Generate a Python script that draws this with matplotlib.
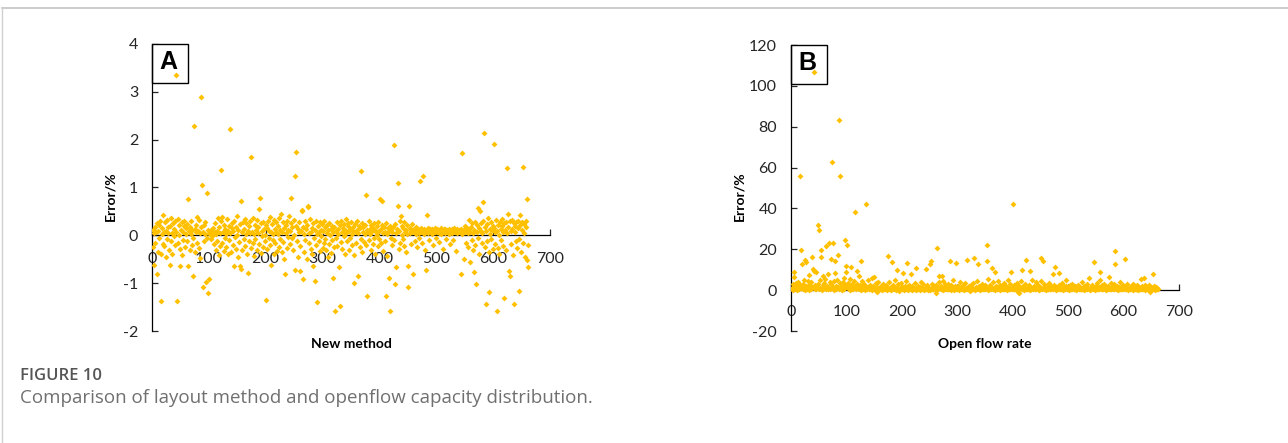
import matplotlib
matplotlib.use("Agg")
import matplotlib.pyplot as plt
from matplotlib.patches import Rectangle
from matplotlib.lines import Line2D
import numpy as np

# relative error of the new layout method, one value per sample (1..662)
err_new = [
    0.12, -0.25, -0.62, 0.05, 0.18, -0.15, 0.08, 0.25, -0.80, -0.35, 0.10, 0.22, -0.05, 0.30, -0.40, -1.37, 0.02, 0.15, -0.18, 0.42,
    0.06, -0.22, 0.28, 0.10, -0.45, 0.33, -0.08, 0.18, 0.04, -0.30, -0.63, 0.20, 0.37, -0.12, 0.05, -0.38, 0.26, 0.14, -0.02, 0.31,
    -0.20, 3.35, 0.08, -1.37, 0.35, -0.15, 0.22, 0.01, -0.28, -0.64, 0.12, 0.27, -0.42, 0.06, -0.10, 0.19, 0.30, -0.25, 0.03, 0.16,
    -0.12, 0.24, 0.75, -0.64, 0.09, -0.30, 0.18, 0.02, 0.29, -0.20, 0.11, -0.05, -0.86, 2.28, 0.14, -0.35, 0.21, 0.07, -0.15, 0.38,
    0.10, -0.26, 0.33, 0.04, -0.48, 2.90, 0.17, 1.06, -1.09, 0.08, 0.22, -0.12, 0.02, 0.28, -0.98, -0.05, 0.88, 0.12, -1.20, -0.91,
    0.05, 0.02, -0.08, 0.12, 0.08, -0.02, 0.15, 0.00, -0.18, 0.06, 0.25, -0.30, 0.03, 0.10, -0.12, 0.36, -0.42, 0.18, 0.04, -0.22,
    1.36, 0.30, -0.15, 0.39, 0.07, -0.33, 0.21, -0.06, 0.13, -0.25, 0.02, 0.34, -0.40, 0.10, 0.20, -0.10, 2.22, 0.05, -0.35, 0.26,
    0.15, -0.20, 0.09, -0.64, 0.31, -0.04, 0.18, -0.28, 0.01, 0.40, -0.45, 0.12, -0.14, 0.23, -0.64, 0.71, -0.70, 0.06, -0.30, 0.27,
    -0.08, 0.14, 0.35, -0.22, 0.03, 0.26, -0.38, 0.10, -0.79, 0.19, -0.11, 0.29, 0.05, -0.26, 1.63, 0.08, -0.16, 0.37, 0.02, -0.43,
    0.21, -0.07, 0.12, 0.32, -0.30, 0.04, 0.17, -0.19, 0.55, 0.79, 0.25, -0.36, 0.09, -0.02, 0.28, -0.24, 0.13, 0.01, -0.12, 0.22,
    -1.36, 0.16, -0.28, 0.30, -0.05, 0.10, 0.38, -0.20, 0.06, -0.61, 0.24, -0.10, 0.02, 0.33, -0.40, 0.14, -0.16, 0.27, 0.08, -0.32,
    0.19, 0.03, -0.24, 0.36, 0.11, -0.08, 0.45, -0.35, 0.07, 0.28, -0.14, 0.15, -0.50, -0.81, 0.22, 0.04, -0.27, 0.31, -0.03, 0.12,
    0.40, -0.18, 0.09, 0.79, 0.25, -0.06, 0.17, -0.30, 0.33, 0.01, 1.24, -0.72, 0.20, 1.74, -0.12, 0.14, -0.45, 0.06, 0.27, -0.75,
    -0.22, 0.10, 0.51, 0.54, -0.91, 0.18, -0.35, 0.03, 0.29, -0.09, 0.13, -0.50, 0.22, 0.59, 0.61, -0.17, 0.05, 0.34, -0.28, 0.08,
    0.15, -0.40, -0.65, 0.26, -0.05, -0.96, 0.11, 0.30, -0.20, 0.02, -1.40, 0.19, -0.12, 0.07, 0.28, -0.33, 0.12, -0.02, 0.23, -0.26,
    0.09, -0.15, 0.31, -0.08, 0.17, -0.30, 0.04, 0.22, -0.45, 0.12, -0.18, 0.26, 0.01, -0.36, 0.14, -0.10, 0.20, 0.06, -0.89, -0.25,
    0.18, -1.58, 0.10, -0.05, 0.27, -0.22, 0.13, 0.03, -0.66, -1.47, 0.21, -0.14, 0.30, 0.08, -0.28, 0.16, -0.02, 0.24, -0.40, 0.11,
    0.05, 0.35, -0.12, 0.19, 0.26, -0.30, 0.09, 0.14, -0.06, 0.28, 0.02, -0.20, 0.17, 0.10, -0.42, -1.00, 0.23, 0.07, -0.15, 0.30,
    0.12, -0.86, 0.04, 0.20, -0.25, 0.15, -0.08, 1.35, 0.25, -0.35, 0.08, 0.18, -0.14, 0.02, 0.22, 0.84, -0.20, -1.26, 0.11, 0.06,
    0.29, -0.10, 0.14, 0.03, -0.30, 0.21, 0.09, -0.18, 0.16, 0.25, -0.05, 0.12, -0.38, 0.07, 0.19, 0.01, -0.22, 0.28, 0.10, -0.08,
    0.75, 0.13, -0.15, 0.22, 0.71, 0.05, -0.32, 0.17, 0.08, -0.12, -1.26, 0.26, 0.02, -0.44, 0.15, 0.10, -0.89, -1.59, 0.20, -0.06,
    0.12, -0.20, 0.06, 0.18, 1.88, -0.10, -1.02, 0.24, -0.66, 0.04, 0.14, 1.09, 0.61, -0.28, 0.09, 0.30, -0.15, 0.40, 0.01, 0.19,
    -0.08, 0.16, 0.28, -0.22, 0.07, 0.12, -0.35, 0.21, 0.03, -0.65, -1.07, 0.61, 0.15, 0.05, -0.18, 0.10, 0.24, 0.08, -0.81, 0.13,
    0.06, -0.12, 0.11, 0.18, 0.02, -0.25, 0.09, 0.14, 0.04, -0.06, 1.14, 0.12, 0.07, 0.16, -0.15, 0.10, 1.23, 0.03, 0.13, -0.30,
    0.08, -0.72, 0.43, 0.12, 0.05, 0.15, 0.10, -0.10, 0.13, 0.07, 0.11, 0.02, 0.14, -0.20, 0.09, 0.12, 0.06, 0.16, -0.05, 0.10,
    0.13, 0.08, 0.11, -0.14, 0.05, 0.12, 0.09, 0.15, 0.02, 0.10, -0.28, 0.07, 0.13, 0.11, 0.04, 0.14, -0.08, 0.09, 0.12, 0.06,
    0.10, 0.14, 0.03, -0.18, 0.11, 0.08, 0.13, 0.05, 0.12, -0.10, 0.09, 0.15, 0.07, 0.11, -0.32, 0.04, 0.13, 0.10, 0.08, 0.12,
    0.06, 0.11, -0.80, 0.14, 0.02, 1.72, 0.09, -0.49, 0.12, 0.07, 0.20, -0.15, 0.10, 0.16, 0.04, -0.25, 0.13, 0.33, 0.08, -0.55,
    0.18, -0.10, 0.25, 0.05, -0.30, -0.77, 0.12, 0.28, -0.20, -1.01, 0.08, 0.22, 0.58, -0.05, 0.15, -0.38, 0.50, 0.10, 0.26, -0.16,
    0.04, 0.30, 0.69, 2.14, -0.24, 0.18, -1.44, 0.09, -0.12, 0.24, 0.36, -0.35, -1.19, 0.14, 0.02, 0.28, -0.08, 0.12, -0.28, 0.20,
    0.16, 1.90, -0.18, 0.06, 0.33, -1.59, 0.10, -0.26, 0.22, 0.01, -0.40, 0.27, 0.13, -0.10, 0.19, 0.35, -0.22, 0.08, 0.25, -1.30,
    0.11, -0.30, 0.28, 0.04, 1.40, 0.45, 0.17, -0.75, 0.30, -0.84, 0.09, -0.18, 0.32, 0.14, -0.42, 0.25, -1.43, 0.06, 0.20, -0.12,
    0.28, -0.26, 0.15, 0.31, -0.08, -1.16, 0.21, 0.43, -0.35, 0.12, 0.27, -0.15, 1.42, 0.05, 0.24, -0.45, 0.18, 0.30, -0.51, 0.75,
    -0.66, -0.20,
]

# relative error of the open flow rate, one value per sample (1..662)
err_open = [
    1.2, 0.5, 2.8, 0.3, 6.2, 9.1, 1.5, 0.8, 3.6, 0.2, 1.9, 0.6, 4.1, 1.1, 0.4, 55.8, 2.3, 19.8, 0.9, 13.0,
    0.7, 3.2, 1.4, 5.0, 0.3, 15.0, 2.1, 13.7, 0.6, 4.4, 1.8, 0.2, 7.3, 1.0, 2.6, 0.5, 3.9, 16.2, 1.3, 10.2,
    9.6, 107.0, 0.8, 2.4, 0.4, 8.7, 1.6, 31.9, 3.1, 29.4, 0.6, 4.8, 1.2, 19.8, 16.2, 0.3, 2.7, 6.7, 0.9, 3.4,
    1.5, 5.6, 21.8, 0.4, 2.2, 7.9, 0.7, 23.1, 1.1, 3.8, 0.5, 2.9, 15.1, 62.6, 1.7, 23.1, 0.3, 4.6, 14.5, 8.6,
    2.0, 0.6, 5.2, 1.3, 17.0, 0.4, 83.4, 55.8, 3.3, 0.8, 1.9, 0.2, 4.0, 1.0, 6.1, 0.5, 2.5, 24.7, 8.9, 12.0,
    22.3, 1.4, 3.7, 0.6, 2.2, 0.3, 5.4, 1.1, 11.4, 0.7, 2.8, 0.4, 1.6, 4.3, 38.4, 0.9, 2.0, 0.5, 3.0, 9.3,
    1.2, 0.4, 6.8, 0.8, 2.5, 14.1, 0.3, 1.7, 4.5, 0.6, 1.0, 3.2, 0.2, 2.1, 0.9, 42.0, 1.5, 0.5, 4.9, 0.7,
    1.3, 0.4, 2.6, 0.8, 1.0, 5.9, 0.3, 1.9, 0.6, 6.3, 1.2, 0.5, 3.5, 0.9, -0.9, 1.6, 4.2, 0.7, 1.1, 0.4,
    0.9, 2.2, 0.5, 1.4, 0.3, 3.0, 0.8, 1.7, 0.4, 1.1, 2.5, 0.6, 0.2, 1.3, 16.7, 0.7, 3.9, 0.5, 1.0, 0.3,
    1.6, 0.4, 14.0, 0.9, 2.3, 0.6, 5.1, 1.2, 0.3, 0.8, 10.1, 1.5, 0.5, 2.8, -0.5, 1.0, 0.7, 3.4, 0.4, 1.3,
    0.6, 8.4, 1.1, 0.3, 2.0, 0.8, 0.5, 4.6, 13.5, 1.4, 0.2, 0.9, 2.7, 0.6, 1.2, 0.4, 7.8, 1.8, 0.3, 0.7,
    1.0, 0.5, 3.6, 0.8, 0.3, 10.7, 1.3, 0.6, 2.2, 0.4, 0.9, 1.6, 0.2, 0.7, 4.0, 1.1, 0.5, 0.8, 2.9, 0.3,
    0.6, 1.2, 10.2, 0.4, 0.9, 2.4, 0.3, 1.5, 0.7, 0.2, 13.0, 1.0, 14.5, 0.5, 3.2, 0.8, 0.4, 1.8, 0.6, 1.1,
    -1.2, 2.6, 20.5, 0.7, 1.4, 0.5, 3.8, 6.7, 1.0, 0.4, 2.1, 6.7, 0.8, 0.3, 4.4, 1.2, 0.6, 2.9, 0.9, 0.5,
    1.7, 0.4, 3.1, 0.8, 0.6, 1.3, 14.5, 0.3, 2.4, 0.9, 0.5, 5.2, 1.1, 0.7, 0.2, 1.8, 0.6, 13.5, 1.0, 0.4,
    2.2, 0.7, 0.3, 1.5, 4.1, 0.6, 0.9, 0.4, 1.2, 2.7, 0.5, 0.8, 0.3, 3.5, 1.0, 0.6, 0.4, 15.0, 1.4, 0.7,
    0.5, 1.9, -0.6, 0.8, 2.5, 0.6, 1.1, 0.4, 3.3, 15.8, 0.7, 0.2, 1.6, 0.9, 4.7, 0.5, 12.8, 1.2, 0.4, 2.0,
    0.8, 0.3, 1.4, 0.6, 3.0, 0.9, 0.4, 1.7, 0.5, 2.6, 0.7, 1.1, 22.1, 14.3, 0.3, 5.5, 0.8, 1.3, 0.6, 2.3,
    0.4, 10.7, 1.0, 0.7, 3.8, 0.5, 1.2, 8.9, 0.3, 2.1, 0.8, 0.6, 4.3, 1.5, 0.4, 0.9, 2.7, 0.3, 1.1, 0.6,
    1.8, 0.5, 0.9, 3.4, 0.4, 1.3, 0.7, 2.2, 0.3, 1.0, 0.6, 4.9, 0.8, 1.5, 0.4, 2.8, 8.8, 0.6, 1.2, 0.5,
    42.3, 0.8, 2.4, 0.4, 1.1, 0.6, 3.7, 0.9, -1.1, 1.6, -1.3, 2.0, 0.7, 1.3, 4.6, 0.4, 9.8, 0.8, 1.9, 0.3,
    1.0, 0.6, 3.1, 0.4, 15.0, 0.8, 1.4, 0.5, 2.6, 0.7, 0.3, 9.3, 1.2, 0.6, 5.0, 0.9, 0.4, 2.2, 1.5, 0.5,
    0.8, 3.9, 0.4, 1.1, 0.6, 2.4, 0.9, 0.3, 1.7, 0.7, 4.4, 15.8, 0.5, 14.3, 1.2, 0.4, 2.9, 0.8, 0.6, 1.4,
    0.3, 1.9, 0.7, 0.5, 3.3, 1.0, 0.4, 0.8, 2.0, 0.6, 1.3, 8.1, 0.4, 2.6, 0.9, 0.5, 11.1, 1.6, 0.3, 0.7,
    1.1, 0.5, 2.5, 8.3, 0.8, 0.4, 1.4, 0.6, 3.6, 0.9, 0.3, 1.8, 0.7, 0.5, 1.2, 2.1, 4.9, 0.4, 0.8, 1.5,
    0.6, 0.3, 2.3, 1.0, 0.5, 0.8, 3.1, 0.4, 1.3, 0.7, 0.5, 2.0, 0.9, 0.3, 1.6, 0.6, 0.4, 2.7, 1.1, 0.5,
    0.8, 1.5, 0.4, 0.7, 3.8, 0.6, 1.0, 0.3, 2.2, 0.9, 0.5, 1.4, 0.7, 0.4, 2.9, 1.2, 0.6, 5.9, 0.8, 0.3,
    1.7, 0.5, 0.9, 2.6, 0.4, 1.1, 14.0, 0.7, 0.3, 1.9, 0.6, 3.5, 0.8, 0.4, 1.3, 0.6, 5.2, 8.9, 1.0, 0.5,
    2.4, 0.7, 0.4, 1.2, 3.0, 0.6, 0.9, 0.3, 1.6, 0.8, 0.5, 2.2, 6.3, 0.4, 1.1, 0.7, 3.7, 0.5, 0.9, 1.4,
    0.6, 2.8, 0.4, 19.2, 12.7, 0.8, 1.3, 0.5, 2.0, 0.7, 0.3, 1.5, 4.2, 0.6, 0.9, 0.4, 1.8, 0.7, 2.5, 0.5,
    1.0, 15.1, 0.6, 0.4, 1.7, 0.8, 2.9, 0.5, 0.3, 1.2, 0.7, 0.4, 2.1, 0.9, 0.6, 1.4, 0.3, 3.2, 0.8, 0.5,
    1.1, 0.6, 0.4, 2.3, 0.7, 0.9, 0.3, 1.5, 0.6, 0.8, 5.5, 0.4, 1.9, 0.7, 0.5, 1.2, 5.8, 0.3, 2.6, 0.6,
    0.9, 0.4, 1.6, 0.7, 0.5, 2.4, 0.8, -0.7, 1.3, 0.6, 0.4, 1.0, 7.7, 0.5, 2.0, 0.7, 0.3, 1.4, 0.8, 0.5,
    1.1, 0.6,
]

x_ticks = [0, 100, 200, 300, 400, 500, 600, 700]
y_ticks_a = [-2, -1, 0, 1, 2, 3, 4]
y_ticks_b = [-20, 0, 20, 40, 60, 80, 100, 120]

GOLD = "#FFC000"
TEXT = "#262626"
plt.rcParams["font.family"] = ["Lato", "DejaVu Sans"]
plt.rcParams["axes.unicode_minus"] = False

fig = plt.figure(figsize=(12.88, 4.43), dpi=100)


def panel(rect, y, yticks, letter, xlabel, ylab_x, box_w, xpad):
    ax = fig.add_axes(rect)
    x = np.arange(1, len(y) + 1)
    ax.scatter(x, y, s=9, marker="D", color=GOLD, linewidths=0, zorder=3)
    ax.set_xlim(0, 700)
    ax.set_ylim(yticks[0], yticks[-1])
    ax.set_xticks(x_ticks)
    ax.set_yticks(yticks)
    for side in ("top", "right"):
        ax.spines[side].set_visible(False)
    ax.spines["bottom"].set_position(("data", 0))
    for side in ("left", "bottom"):
        ax.spines[side].set_linewidth(0.9)
        ax.spines[side].set_color("black")
    ax.tick_params(axis="both", direction="in", length=4, width=0.9,
                   labelsize=11.5, colors=TEXT)
    ax.tick_params(axis="y", pad=10)
    ax.tick_params(axis="x", pad=xpad)
    ax.set_ylabel("Error/%", fontsize=10, fontweight="bold", color="black")
    ax.yaxis.set_label_coords(ylab_x, 0.47)
    ax.text(0.5, -0.045, xlabel, transform=ax.transAxes, ha="center",
            va="center", fontsize=10, fontweight="bold", color="black")
    # panel letter in a framed box at the top-left corner
    box_h = 0.136
    ax.add_patch(Rectangle((0, 1 - box_h), box_w, box_h, transform=ax.transAxes,
                           facecolor="white", edgecolor="black", linewidth=1.0,
                           zorder=2, clip_on=False))
    ax.text(box_w * 0.45, 1 - box_h * 0.45, letter, transform=ax.transAxes,
            ha="center", va="center", fontsize=18, fontweight="bold",
            family=["Liberation Sans", "DejaVu Sans"], zorder=2.5)
    return ax


panel([0.118, 0.2528, 0.309, 0.6479], err_new, y_ticks_a, "A", "New method", -0.09, 0.0905, 12)
panel([0.6141, 0.2528, 0.3012, 0.6456], err_open, y_ticks_b, "B", "Open flow rate", -0.118, 0.093, 11)

# page frame lines
fig.add_artist(Line2D([0.0015, 1.0], [1 - 8 / 443, 1 - 8 / 443], transform=fig.transFigure,
                      color="#c4c4c4", linewidth=1.2))
fig.add_artist(Line2D([0.0015, 0.0015], [0, 1 - 8 / 443], transform=fig.transFigure,
                      color="#d0d0d0", linewidth=1.0))

fig.text(20 / 1288, 1 - 376 / 443, "FIGURE 10", ha="left", va="center",
         fontsize=12, color="#555555", fontweight="semibold",
         family=["Open Sans", "DejaVu Sans"], fontstretch="condensed")
fig.text(20 / 1288, 1 - 398 / 443,
         "Comparison of layout method and openflow capacity distribution.",
         ha="left", va="center", fontsize=13.5, color="#707070",
         family=["Open Sans", "DejaVu Sans"])

fig.savefig("out.png", dpi=100)
